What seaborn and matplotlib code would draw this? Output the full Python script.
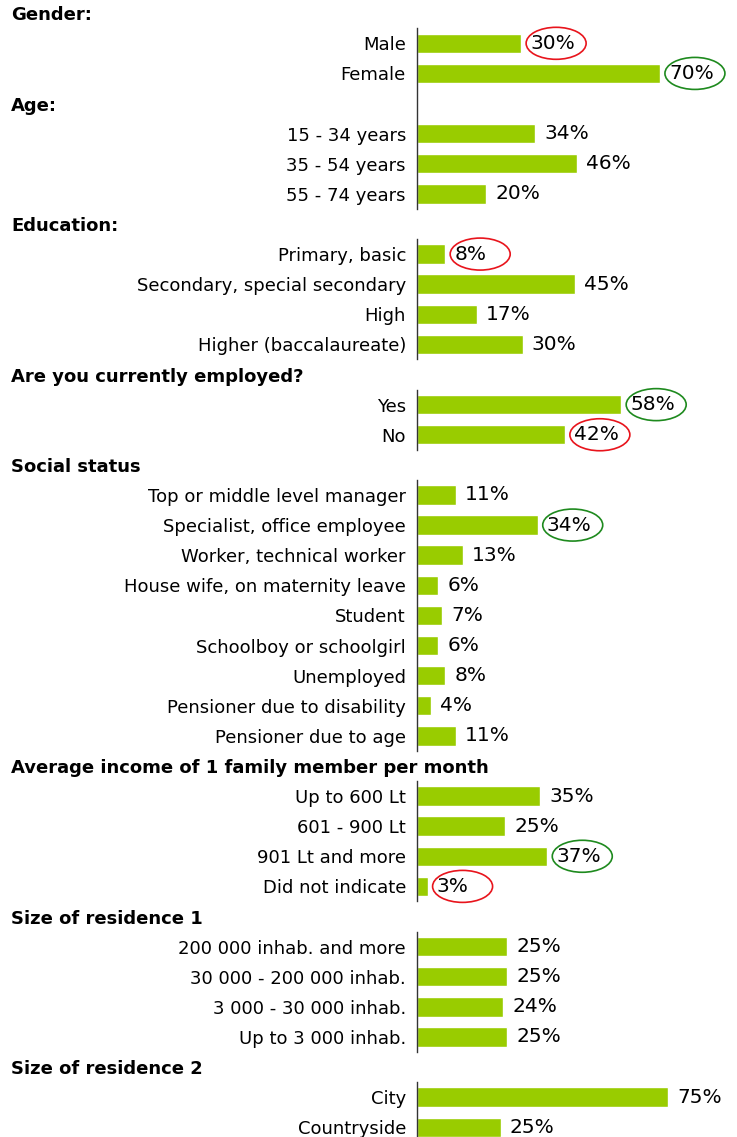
import matplotlib
matplotlib.use("Agg")
import matplotlib.pyplot as plt
import matplotlib.transforms as mtransforms
from matplotlib.patches import Ellipse
import seaborn as sns

# --- data ---
gender_labels = ["Male", "Female"]
gender_values = [30, 70]

age_labels = ["15 - 34 years", "35 - 54 years", "55 - 74 years"]
age_values = [34, 46, 20]

edu_labels = ["Primary, basic", "Secondary, special secondary", "High",
              "Higher (baccalaureate)"]
edu_values = [8, 45, 17, 30]

emp_labels = ["Yes", "No"]
emp_values = [58, 42]

social_labels = ["Top or middle level manager", "Specialist, office employee",
                 "Worker, technical worker", "House wife, on maternity leave",
                 "Student", "Schoolboy or schoolgirl", "Unemployed",
                 "Pensioner due to disability", "Pensioner due to age"]
social_values = [11, 34, 13, 6, 7, 6, 8, 4, 11]

income_labels = ["Up to 600 Lt", "601 - 900 Lt", "901 Lt and more", "Did not indicate"]
income_values = [35, 25, 37, 3]

size1_labels = ["200 000 inhab. and more", "30 000 - 200 000 inhab.",
                "3 000 - 30 000 inhab.", "Up to 3 000 inhab."]
size1_values = [25, 25, 24, 25]

size2_labels = ["City", "Countryside"]
size2_values = [75, 25]

headers = ["Gender:", "Age:", "Education:", "Are you currently employed?",
           "Social status", "Average income of 1 family member per month",
           "Size of residence 1", "Size of residence 2"]

# highlighted answers (min red, max green)
circled = {"Male": "red", "Female": "green", "Primary, basic": "red",
           "Yes": "green", "No": "red", "Specialist, office employee": "green",
           "901 Lt and more": "green", "Did not indicate": "red"}

# --- layout ---
W, H = 737, 1137
ROW0, PITCH = 13.2, 30.11
AXIS_X = 417
BAR_COLOR = "#99cc00"
RED, GREEN = "#e8141c", "#1e8a1e"

sns.set_style("white")
plt.rcParams["font.family"] = ["DejaVu Sans"]
plt.rcParams["text.color"] = "black"
plt.rcParams["ytick.color"] = "black"
plt.rcParams["ytick.labelcolor"] = "black"

fig = plt.figure(figsize=(W / 100, H / 100), dpi=100)

# (first row, order, labels, values, px per percent)
charts = [
    (1, gender_labels + [" "] + age_labels, gender_labels + age_labels,
     gender_values + age_values, 3.47),
    (8, edu_labels, edu_labels, edu_values, 3.52),
    (13, emp_labels, emp_labels, emp_values, 3.52),
    (16, social_labels, social_labels, social_values, 3.55),
    (26, income_labels, income_labels, income_values, 3.52),
    (31, size1_labels, size1_labels, size1_values, 3.6),
    (36, size2_labels, size2_labels, size2_values, 3.35),
]
header_rows = [0, 3, 7, 12, 15, 25, 30, 35]


def row_y(r, shift=0.0):
    return 1 - (ROW0 + r * PITCH + shift) / H


to_circle = []
for first_row, order, labels, values, px in charts:
    n = len(order)
    top = ROW0 + first_row * PITCH - PITCH / 2
    ax = fig.add_axes([AXIS_X / W, 1 - (top + n * PITCH) / H,
                       (W - AXIS_X) / W, n * PITCH / H])
    sns.barplot(x=values, y=labels, order=order, ax=ax, color=BAR_COLOR,
                saturation=1, width=0.645, orient="h", errorbar=None)
    ax.set_xlim(0, (W - AXIS_X) / px)
    ax.set_xlabel("")
    ax.set_ylabel("")
    ax.set_xticks([])
    ax.tick_params(axis="y", length=0, pad=8, labelsize=13, labelcolor="black")
    for s in ["top", "right", "bottom"]:
        ax.spines[s].set_visible(False)
    ax.spines["left"].set_color("#333333")
    ax.spines["left"].set_linewidth(1)
    ax.patch.set_alpha(0)

    cont = ax.containers[0]
    texts = ax.bar_label(cont, labels=[f"{b.get_width():.0f}%" for b in cont],
                         padding=6.5, fontsize=14.5, color="black")
    for b, t in zip(cont, texts):
        name = order[int(round(b.get_y() + b.get_height() / 2))]
        if name in circled:
            to_circle.append((t, circled[name]))

for title, r in zip(headers, header_rows):
    fig.text(11 / W, row_y(r, 2), title, fontsize=13, fontweight="bold",
             va="center", ha="left", color="black")

# ellipses around the highlighted values
fig.canvas.draw()
renderer = fig.canvas.get_renderer()
for t, c in to_circle:
    ext = t.get_window_extent(renderer)
    cx = ext.x0 - 4 + 30
    cy = (ext.y0 + ext.y1) / 2
    e = Ellipse((cx, cy), 60, 32, transform=mtransforms.IdentityTransform(),
                fill=False, edgecolor=RED if c == "red" else GREEN, linewidth=1.2)
    fig.add_artist(e)

fig.savefig("out.png", dpi=100)
